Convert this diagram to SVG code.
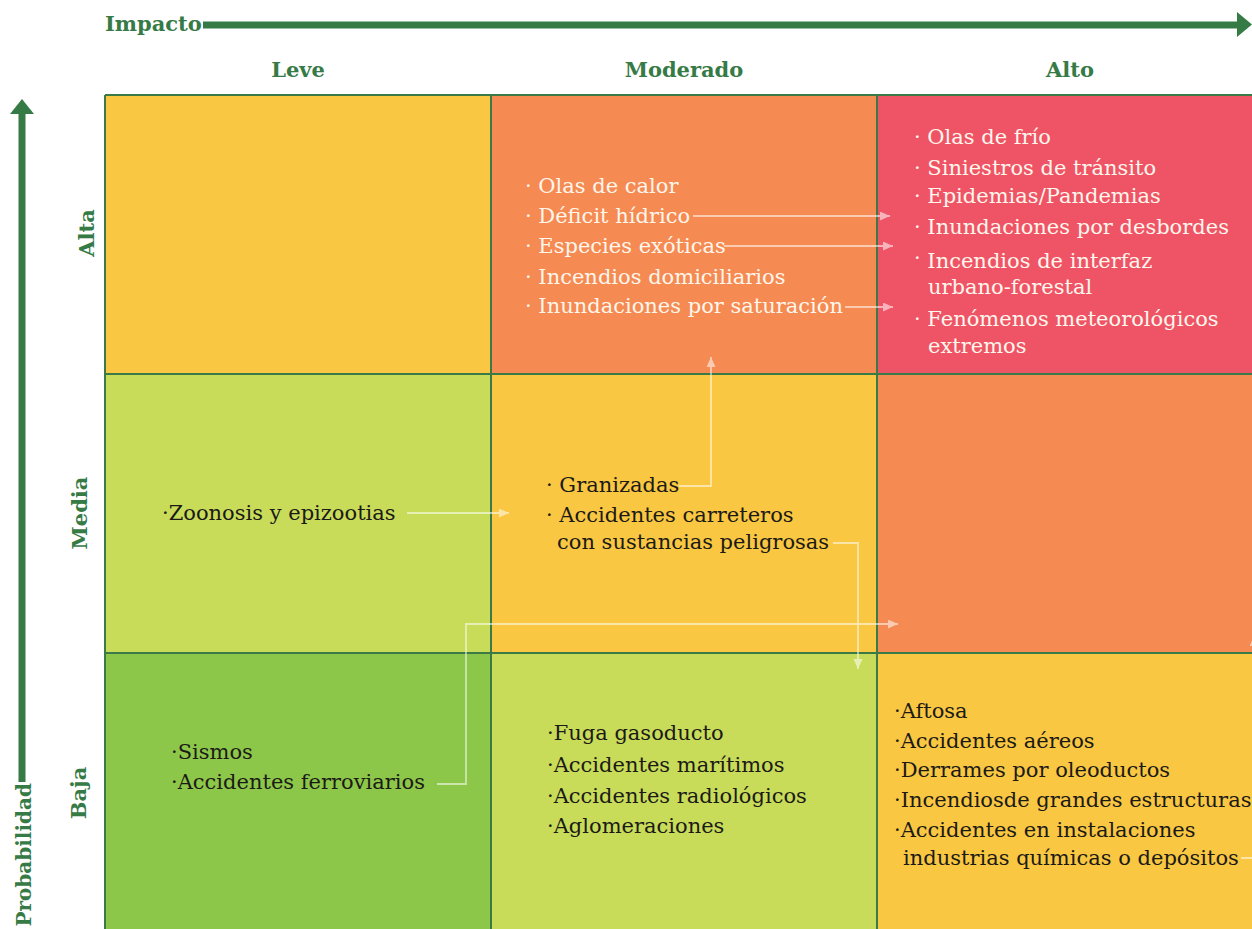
<svg xmlns="http://www.w3.org/2000/svg" width="1252" height="929" viewBox="0 0 1252 929">
<style>
.ax{font-family:"DejaVu Serif","Liberation Serif",serif;font-weight:bold;font-size:21px;fill:#367a46}
.t{font-family:"DejaVu Serif","Liberation Serif",serif;font-size:21px;fill:#1c1a17}
.w{fill:#fff6ec}
.grid{stroke:#3a7a46;stroke-width:2;fill:none}
.con{fill:none;stroke:#ffffff;stroke-width:1.8}
</style>
<defs>
<marker id="ah" markerUnits="userSpaceOnUse" markerWidth="11" markerHeight="10" refX="10" refY="4.5" orient="auto">
<path d="M0,0 L10,4.5 L0,9 z" fill="#ffffff"/>
</marker>
</defs>
<rect width="1252" height="929" fill="#ffffff"/>
<g id="axes">
<text class="ax" x="105" y="31">Impacto</text>
<rect x="203" y="21.5" width="1036" height="7" fill="#367a46"/>
<path d="M1237,12 L1252,24.5 L1237,37 z" fill="#367a46"/>
<rect x="18.5" y="112" width="7" height="670" fill="#367a46"/>
<path d="M10,114 L22,99 L34,114 z" fill="#367a46"/>
<text class="ax" style="font-size:20px" text-anchor="end" transform="translate(31,783) rotate(-90)">Probabilidad</text>
<text class="ax" x="298" y="77" text-anchor="middle">Leve</text>
<text class="ax" x="684" y="77" text-anchor="middle">Moderado</text>
<text class="ax" x="1070" y="77" text-anchor="middle">Alto</text>
<text class="ax" text-anchor="middle" transform="translate(94,233) rotate(-90)">Alta</text>
<text class="ax" text-anchor="middle" transform="translate(87,513) rotate(-90)">Media</text>
<text class="ax" text-anchor="middle" transform="translate(86,793) rotate(-90)">Baja</text>
</g>
<g id="cell-alta-leve"><rect x="105" y="95" width="386" height="279" fill="#f9c741"/></g>
<g id="cell-alta-moderado"><rect x="491" y="95" width="386" height="279" fill="#f58a52"/>
<text class="t w" x="525" y="193">· Olas de calor</text>
<text class="t w" x="525" y="223">· Déficit hídrico</text>
<text class="t w" x="525" y="253">· Especies exóticas</text>
<text class="t w" x="525" y="284">· Incendios domiciliarios</text>
<text class="t w" x="525" y="313">· Inundaciones por saturación</text>
</g>
<g id="cell-alta-alto"><rect x="877" y="95" width="375" height="279" fill="#ef5466"/>
<text class="t w" x="914" y="144">· Olas de frío</text>
<text class="t w" x="914" y="175">· Siniestros de tránsito</text>
<text class="t w" x="914" y="203">· Epidemias/Pandemias</text>
<text class="t w" x="914" y="234">· Inundaciones por desbordes</text>
<text class="t w" x="914" y="265">· <tspan dy="3">Incendios de interfaz</tspan></text>
<text class="t w" x="928" y="294">urbano-forestal</text>
<text class="t w" x="914" y="326">· Fenómenos meteorológicos</text>
<text class="t w" x="928" y="353">extremos</text>
</g>
<g id="cell-media-leve"><rect x="105" y="374" width="386" height="279" fill="#c8dc5a"/>
<text class="t" x="162" y="520">·Zoonosis y epizootias</text>
</g>
<g id="cell-media-moderado"><rect x="491" y="374" width="386" height="279" fill="#f9c741"/>
<text class="t" x="546" y="492">· Granizadas</text>
<text class="t" x="546" y="522">· Accidentes carreteros</text>
<text class="t" x="557" y="549">con sustancias peligrosas</text>
</g>
<g id="cell-media-alto"><rect x="877" y="374" width="375" height="279" fill="#f58a52"/></g>
<g id="cell-baja-leve"><rect x="105" y="653" width="386" height="276" fill="#8dc74a"/>
<text class="t" x="171" y="759">·Sismos</text>
<text class="t" x="171" y="789">·Accidentes ferroviarios</text>
</g>
<g id="cell-baja-moderado"><rect x="491" y="653" width="386" height="276" fill="#c8dc5a"/>
<text class="t" x="547" y="740">·Fuga gasoducto</text>
<text class="t" x="547" y="772">·Accidentes marítimos</text>
<text class="t" x="547" y="803">·Accidentes radiológicos</text>
<text class="t" x="547" y="833">·Aglomeraciones</text>
</g>
<g id="cell-baja-alto"><rect x="877" y="653" width="375" height="276" fill="#f9c741"/>
<text class="t" x="894" y="718">·Aftosa</text>
<text class="t" x="894" y="748">·Accidentes aéreos</text>
<text class="t" x="894" y="777">·Derrames por oleoductos</text>
<text class="t" x="894" y="807">·Incendiosde grandes estructuras</text>
<text class="t" x="894" y="837">·Accidentes en instalaciones</text>
<text class="t" x="903" y="865">industrias químicas o depósitos</text>
</g>
<g id="grid" class="grid">
<path d="M105,95 H1252 M105,374 H1252 M105,653 H1252 M105,95 V929 M491,95 V929 M877,95 V929"/>
</g>
<g id="connectors" opacity="0.55">
<path class="con" d="M693,216 H890" marker-end="url(#ah)"/>
<path class="con" d="M724,246 H893" marker-end="url(#ah)"/>
<path class="con" d="M845,307 H893" marker-end="url(#ah)"/>
<path class="con" d="M679,486 H711 V357" marker-end="url(#ah)"/>
<path class="con" d="M407,513 H509" marker-end="url(#ah)"/>
<path class="con" d="M833,543 H858 V669" marker-end="url(#ah)"/>
<path class="con" d="M437,784 H466 V624 H898" marker-end="url(#ah)"/>
<path class="con" d="M1241,858 H1254 V636" marker-end="url(#ah)"/>
</g>
</svg>
